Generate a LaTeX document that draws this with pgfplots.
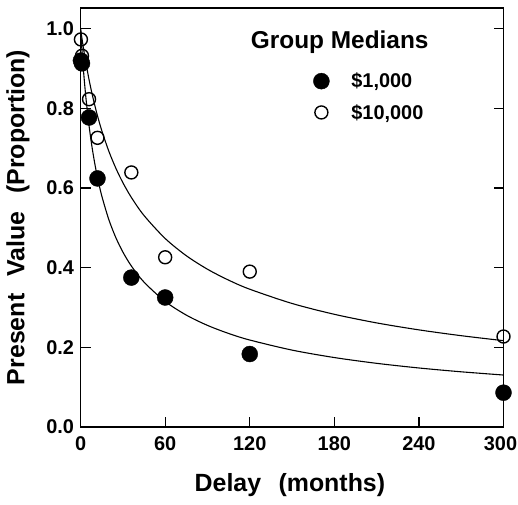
\documentclass[border=0pt]{standalone}
\usepackage{fontspec}
\setmainfont{Liberation Sans}
\usepackage{pgfplots}
\pgfplotsset{compat=1.18}

\begin{document}
\begin{tikzpicture}
\begin{axis}[
  scale only axis, width=423bp, height=419bp,
  xmin=0, xmax=300, ymin=0, ymax=1.052,
  xtick={0,60,120,180,240,300}, ytick={0,0.2,0.4,0.6,0.8,1.0},
  xticklabels={0,60,120,180,240,\hspace{-6bp}300},
  tick align=inside, major tick length=10bp,
  xtick pos=bottom, ytick pos=both, yticklabel pos=left,
  axis line style={line width=1.4pt},
  major tick style={line width=1.2pt, black},
  yticklabel style={/pgf/number format/fixed, /pgf/number format/fixed zerofill, /pgf/number format/precision=1, xshift=-3bp},
  /pgf/number format/assume math mode=true,
  ticklabel style={font=\fontsize{20}{20}\selectfont\bfseries},
  xticklabel style={yshift=-6bp},
  xlabel={Delay\hspace{0.7em}(months)},
  ylabel={Present\hspace{0.7em}Value\hspace{0.7em}(Proportion)},
  every axis x label/.style={at={(axis description cs:0.495,-0.138)}, anchor=center, font=\fontsize{25}{25}\selectfont\bfseries},
  every axis y label/.style={at={(axis description cs:-0.148,0.5)}, rotate=90, anchor=center, font=\fontsize{25}{25}\selectfont\bfseries},
  clip=false,
  legend style={draw=none, fill=none, at={(axis description cs:0.55,0.85)}, anchor=north west,
    font=\fontsize{20}{20}\selectfont\bfseries, row sep=11bp, inner sep=0pt,
    nodes={inner sep=2bp},
    /tikz/every odd column/.append style={column sep=20bp}},
  legend cell align=left,
]
% fitted curves
\addplot[black, line width=1.1pt, smooth, forget plot] coordinates {
(0,1.0) (0.5,0.9715) (1,0.9450) (2,0.8974) (3,0.8558) (4,0.8190) (6,0.7566) (8,0.7055)
(10,0.6628) (12,0.6263) (15,0.5805) (20,0.5210) (25,0.4754) (30,0.4392) (36,0.4042)
(45,0.3636) (60,0.3151) (75,0.2808) (90,0.2550) (105,0.2347) (120,0.2182) (150,0.1929)
(180,0.1742) (210,0.1597) (240,0.1480) (270,0.1384) (300,0.1303)};
\addplot[black, line width=1.1pt, smooth, forget plot] coordinates {
(0,1.0) (0.5,0.9874) (1,0.9751) (2,0.9519) (3,0.9301) (4,0.9097) (6,0.8722) (8,0.8387)
(10,0.8086) (12,0.7812) (15,0.7445) (20,0.6927) (25,0.6498) (30,0.6134) (36,0.5764)
(45,0.5309) (60,0.4732) (75,0.4299) (90,0.3960) (105,0.3686) (120,0.3458) (150,0.3100)
(180,0.2828) (210,0.2612) (240,0.2437) (270,0.2291) (300,0.2166)};
% data
\addplot[only marks, mark=*, mark size=8bp, mark options={fill=black, draw=black}] coordinates {
(0.25,0.920) (1,0.913) (6,0.777) (12,0.624) (36,0.375) (60,0.325) (120,0.183) (300,0.086)};
\addlegendentry{\$1,000}
\addplot[only marks, mark=o, mark size=6.5bp, mark options={draw=black, fill=white, line width=1.4pt}] coordinates {
(0.25,0.973) (1,0.932) (6,0.823) (12,0.726) (36,0.639) (60,0.426) (120,0.390) (300,0.227)};
\addlegendentry{\$10,000}
\node[font=\fontsize{24.5}{24.5}\selectfont\bfseries, anchor=center] at (axis cs:183.8,0.966) {Group Medians};
\end{axis}
\pgfresetboundingbox
\path[use as bounding box] ([shift={(-80.6bp,-78bp)}]current axis.south west) rectangle ([shift={(14.5bp,8bp)}]current axis.north east);
\end{tikzpicture}
\end{document}
